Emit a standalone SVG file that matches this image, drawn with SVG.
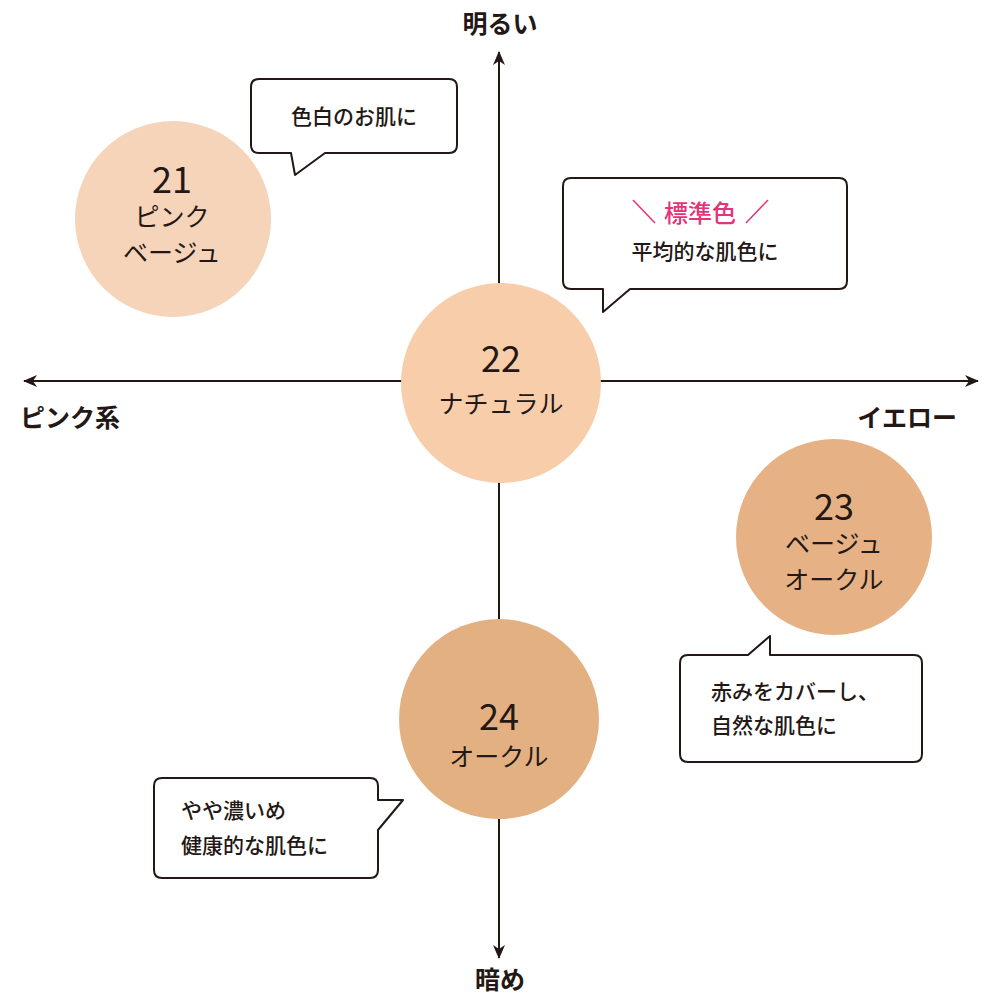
<svg xmlns="http://www.w3.org/2000/svg" width="1000" height="1000" viewBox="0 0 1000 1000">
<defs>
<style>
text{font-family:"Noto Sans CJK JP","Noto Sans",sans-serif;fill:#231815}
.ax{stroke:#231815;stroke-width:2;fill:none}
.bub{fill:#fff;stroke:#231815;stroke-width:2;stroke-linejoin:round}
.num{font-size:36px;text-anchor:middle}
.nm{font-size:25px;text-anchor:middle}
.bt{font-size:21px;font-weight:500}
.al{font-size:25px;font-weight:bold}
</style>
<marker id="ah" viewBox="0 0 14 12" refX="13" refY="6" markerWidth="14" markerHeight="12" markerUnits="userSpaceOnUse" orient="auto"><path d="M0,0 L14,6 L0,12 L4,6 Z" fill="#231815"/></marker>
</defs>
<rect width="1000" height="1000" fill="#fff"/>
<g id="connectors">
<line class="ax" x1="499" y1="381" x2="499" y2="52" marker-end="url(#ah)"/>
<line class="ax" x1="499" y1="381" x2="499" y2="958" marker-end="url(#ah)"/>
<line class="ax" x1="499" y1="381" x2="24" y2="381" marker-end="url(#ah)"/>
<line class="ax" x1="499" y1="381" x2="978" y2="381" marker-end="url(#ah)"/>
</g>
<g id="axis-labels">
<text class="al" x="500" y="33" text-anchor="middle">明るい</text>
<text class="al" x="500" y="989" text-anchor="middle">暗め</text>
<text class="al" x="20" y="427">ピンク系</text>
<text class="al" x="957" y="427" text-anchor="end">イエロー</text>
</g>
<g id="n21"><circle cx="173" cy="219" r="98" fill="#f6d4b9"/>
<text class="num" x="172" y="193">21</text><text class="nm" x="172" y="226">ピンク</text><text class="nm" x="172" y="262">ベージュ</text></g>
<g id="n22"><circle cx="501" cy="383" r="100" fill="#f8cdaa"/>
<text class="num" x="501" y="372">22</text><text class="nm" x="501" y="413">ナチュラル</text></g>
<g id="n23"><circle cx="834" cy="537" r="98" fill="#e6b285"/>
<text class="num" x="834" y="520">23</text><text class="nm" x="834" y="553">ベージュ</text><text class="nm" x="834" y="589">オークル</text></g>
<g id="n24"><circle cx="499" cy="719" r="100" fill="#e3b181"/>
<text class="num" x="499" y="730">24</text><text class="nm" x="499" y="766">オークル</text></g>
<g id="b1"><path class="bub" d="M259,79 H449 Q457,79 457,87 V145 Q457,153 449,153 H325 L295,175 L291,153 H259 Q251,153 251,145 V87 Q251,79 259,79 Z"/>
<text class="bt" x="354" y="124" text-anchor="middle">色白のお肌に</text></g>
<g id="b2"><path class="bub" d="M571,178 H839 Q847,178 847,186 V281 Q847,289 839,289 H630 L603,312 L603,289 H571 Q563,289 563,281 V186 Q563,178 571,178 Z"/>
<line x1="633" y1="200" x2="655" y2="223" stroke="#e5337a" stroke-width="1.5"/>
<line x1="768" y1="200" x2="746" y2="223" stroke="#e5337a" stroke-width="1.5"/>
<text x="700" y="222" text-anchor="middle" style="font-size:24px;font-weight:500;fill:#e5337a">標準色</text>
<text class="bt" x="705" y="259" text-anchor="middle">平均的な肌色に</text></g>
<g id="b3"><path class="bub" d="M688,655 H748 L770,636 L770,655 H914 Q922,655 922,663 V754 Q922,762 914,762 H688 Q680,762 680,754 V663 Q680,655 688,655 Z"/>
<text class="bt" x="711" y="699">赤みをカバーし、</text>
<text class="bt" x="711" y="733">自然な肌色に</text></g>
<g id="b4"><path class="bub" d="M162,778 H370 Q378,778 378,786 V800 L403,800 L378,830 V870 Q378,878 370,878 H162 Q154,878 154,870 V786 Q154,778 162,778 Z"/>
<text class="bt" x="181" y="818">やや濃いめ</text>
<text class="bt" x="181" y="853">健康的な肌色に</text></g>
</svg>
